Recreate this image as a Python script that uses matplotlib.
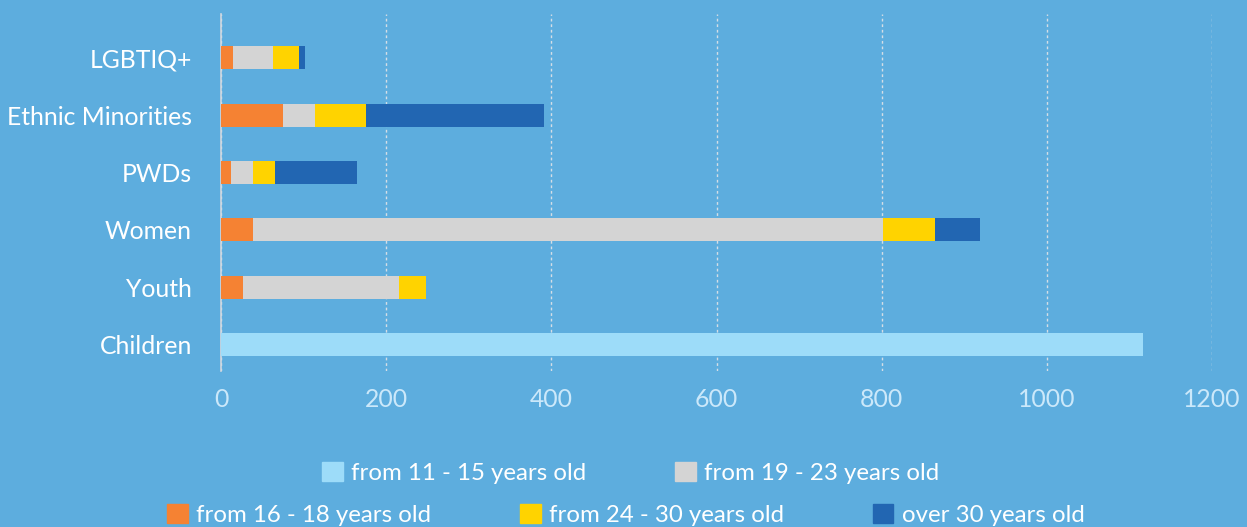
import matplotlib
matplotlib.use("Agg")
import matplotlib.pyplot as plt
import matplotlib.patches as mpatches

# data
groups = ["Children", "Youth", "Women", "PWDs", "Ethnic Minorities", "LGBTIQ+"]
age_labels = ["from 11 - 15 years old", "from 16 - 18 years old",
              "from 19 - 23 years old", "from 24 - 30 years old",
              "over 30 years old"]
age_11_15 = [1116, 0, 0, 0, 0, 0]
age_16_18 = [0, 27, 39, 12, 75, 15]
age_19_23 = [0, 189, 763, 27, 39, 48]
age_24_30 = [0, 32, 62, 26, 62, 32]
age_30_plus = [0, 0, 55, 100, 215, 7]
series = [age_11_15, age_16_18, age_19_23, age_24_30, age_30_plus]
x_ticks = [0, 200, 400, 600, 800, 1000, 1200]

colors = ["#9DDCF9", "#F58233", "#D4D4D4", "#FFD300", "#2266B2"]
bg = "#5DADDE"

plt.rcParams["font.family"] = ["Lato", "DejaVu Sans"]

fig = plt.figure(figsize=(12.47, 5.27), dpi=100)
fig.patch.set_facecolor(bg)
ax = fig.add_axes([0.1772, 0.296, 0.972 - 0.1772, 0.9734 - 0.296])
ax.set_facecolor(bg)

ypos = list(range(len(groups)))
left = [0] * len(groups)
for vals, col in zip(series, colors):
    ax.barh(ypos, vals, left=left, height=0.4, color=col, zorder=3)
    left = [a + b for a, b in zip(left, vals)]

ax.set_xlim(0, 1200)
ax.set_ylim(-0.46, 5.76)
ax.set_xticks(x_ticks)
ax.set_yticks(ypos)
ax.set_yticklabels(groups, fontsize=17.8, color="white")
ax.tick_params(axis="x", colors="#CBE8FA", labelsize=17.8, length=0, pad=12)
ax.tick_params(axis="y", length=0, pad=21)
ax.grid(axis="x", color="#D5DEE6", linestyle=(0, (2, 2)), linewidth=1, zorder=1)
for s in ["top", "right", "bottom"]:
    ax.spines[s].set_visible(False)
ax.spines["left"].set_color("#D0D8E0")
ax.spines["left"].set_linewidth(1.2)

handles = [mpatches.Patch(color=c, label=l) for c, l in zip(colors, age_labels)]
leg_kw = dict(frameon=False, fontsize=17.3, labelcolor="white",
              handlelength=0.85, handleheight=0.85, handletextpad=0.35,
              borderaxespad=0)
leg1 = fig.legend(handles=[handles[0], handles[2]], ncol=2, columnspacing=3.7,
                  loc="center", bbox_to_anchor=(0.506, 1 - 473 / 527), **leg_kw)
leg2 = fig.legend(handles=[handles[1], handles[3], handles[4]], ncol=3,
                  columnspacing=3.7, loc="center",
                  bbox_to_anchor=(0.502, 1 - 515 / 527), **leg_kw)

fig.savefig("out.png", dpi=100, facecolor=bg)
